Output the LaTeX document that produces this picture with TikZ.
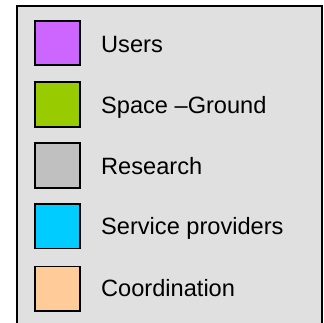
\documentclass[tikz,border=0pt]{standalone}
\usepackage{fontspec}
\setmainfont{Liberation Sans}
\definecolor{keybg}{HTML}{E0E0E0}
\definecolor{colUsers}{HTML}{CC66FF}
\definecolor{colGround}{HTML}{99CC00}
\definecolor{colResearch}{HTML}{C0C0C0}
\definecolor{colService}{HTML}{00CCFF}
\definecolor{colCoord}{HTML}{FFCC99}
\begin{document}
\begin{tikzpicture}[x=1pt, y=-1pt,
  swatch/.style={draw=black, line width=1.6pt, minimum size=44.5pt, inner sep=0pt},
  keylabel/.style={anchor=base west, inner sep=0pt, font=\fontsize{23.6}{28}\selectfont}]
% Fix the picture size
\useasboundingbox (0,0) rectangle (324,323);
\clip (0,0) rectangle (324,323);

% Draw the legend frame (runs off the bottom)
\draw[line width=2pt, fill=keybg] (17,6) rectangle (321.7,340);

% Insert the colour keys and their labels
\node[swatch, fill=colUsers] (users) at (57.5,43) {};
\node[keylabel] (usersLabel) at (101,52.3) {Users};
\node[swatch, fill=colGround] (ground) at (57.5,104.5) {};
\node[keylabel] (groundLabel) at (101,113.3) {Space –Ground};
\node[swatch, fill=colResearch] (research) at (57.5,165.5) {};
\node[keylabel] (researchLabel) at (101,174.3) {Research};
\node[swatch, fill=colService] (service) at (57.5,226.2) {};
\node[keylabel] (serviceLabel) at (101,235) {Service providers};
\node[swatch, fill=colCoord] (coord) at (57.5,288.7) {};
\node[keylabel] (coordLabel) at (101,296.2) {Coordination};
\end{tikzpicture}
\end{document}
